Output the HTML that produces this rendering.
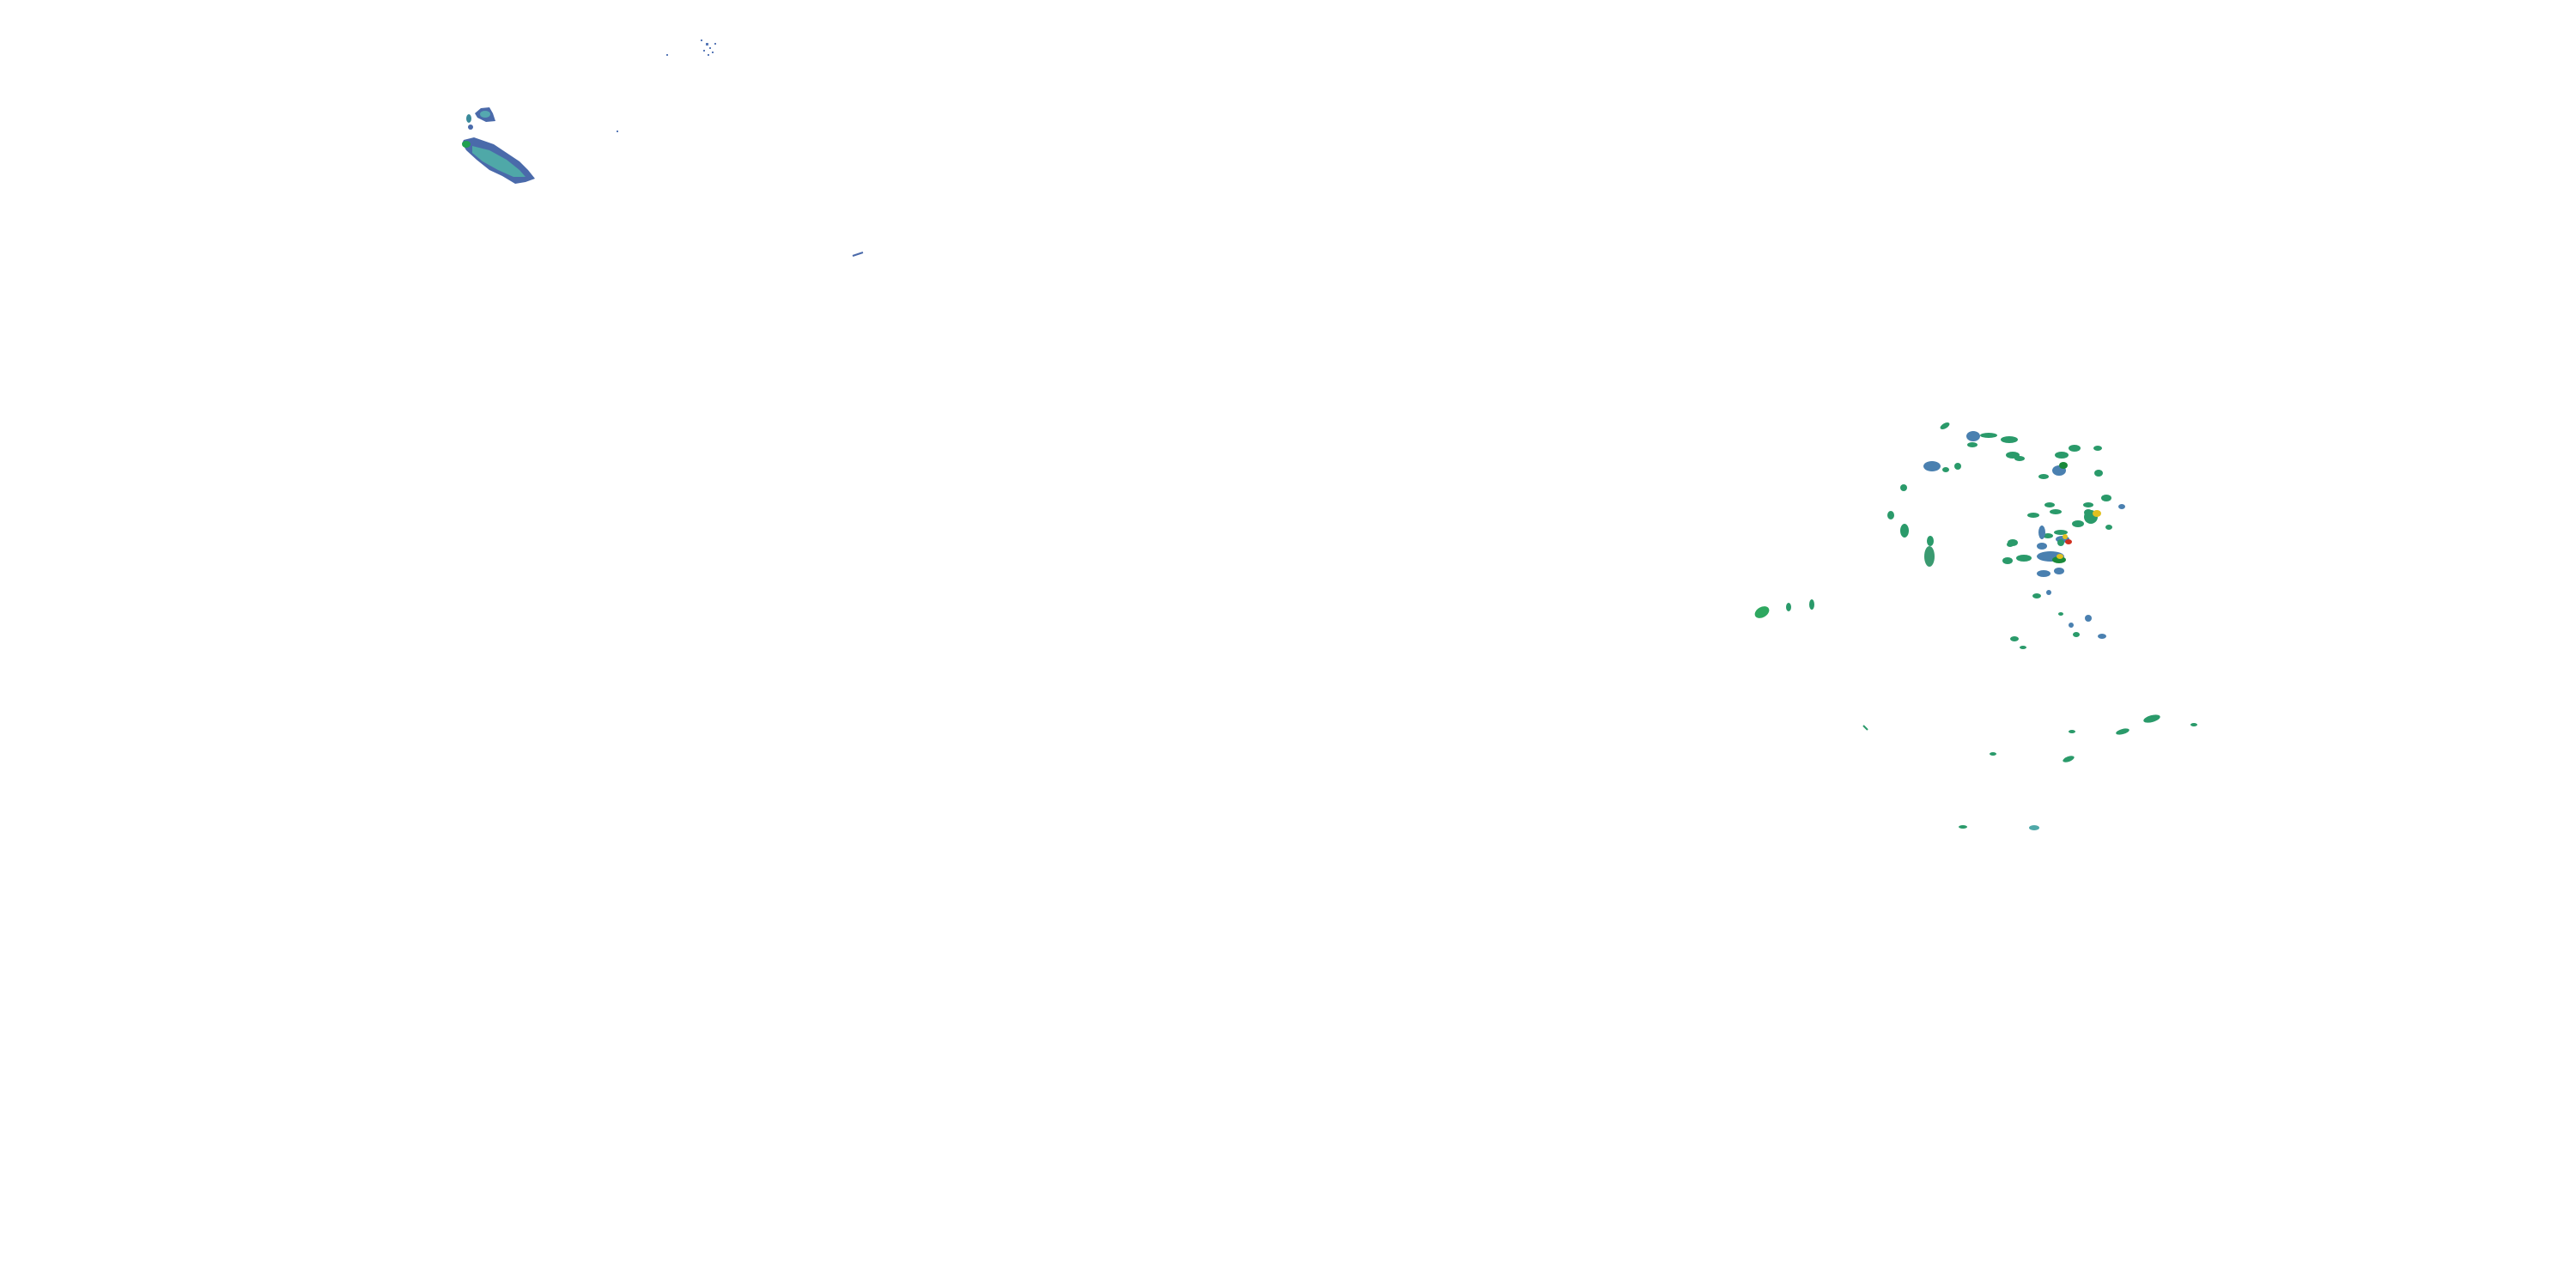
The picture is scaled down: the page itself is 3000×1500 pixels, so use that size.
<!DOCTYPE html>
<html><head><meta charset="utf-8"><style>html,body{margin:0;padding:0;background:#fff}svg{display:block}</style></head>
<body>
<svg width="3000" height="1500" viewBox="0 0 3000 1500" xmlns="http://www.w3.org/2000/svg">
<rect width="3000" height="1500" fill="#fff"/>
<polygon points="540,163 552,160 575,168 590,178 605,188 615,198 623,208 612,212 600,214 585,205 570,198 555,186 543,175 538,167" fill="#4a6aaa"/>
<polygon points="550,170 570,175 590,186 605,198 612,206 598,206 580,198 562,188 550,178" fill="#4fa8a8"/>
<ellipse cx="543" cy="168" rx="5" ry="4" fill="#1fa050"/>
<polygon points="553,132 560,126 570,125 574,132 577,141 566,142 556,137" fill="#4a6aaa"/>
<ellipse cx="565" cy="133" rx="6" ry="4" fill="#55a8b0"/>
<ellipse cx="546" cy="138" rx="3" ry="5" fill="#3a8a9a"/>
<ellipse cx="548" cy="148" rx="3" ry="3" fill="#4a6aaa"/>
<g fill="#5a7ab8">
<rect x="816" y="46" width="2" height="2"/><rect x="822" y="50" width="3" height="3"/><rect x="826" y="55" width="2" height="2"/>
<rect x="819" y="58" width="2" height="2"/><rect x="829" y="60" width="2" height="2"/><rect x="824" y="63" width="2" height="2"/>
<rect x="776" y="63" width="2" height="2"/><rect x="832" y="50" width="2" height="2"/><rect x="718" y="152" width="2" height="2"/>
</g>
<line x1="993" y1="298" x2="1005" y2="294" stroke="#4a6aaa" stroke-width="2"/>
<g fill="#2a9a6a">
<ellipse cx="2052" cy="713" rx="9" ry="6" transform="rotate(-30 2052 713)" fill="#2ea860"/>
<ellipse cx="2083" cy="707" rx="3" ry="5"/>
<ellipse cx="2110" cy="704" rx="3" ry="6"/>
<ellipse cx="2265" cy="496" rx="6" ry="3" transform="rotate(-30 2265 496)"/>
<ellipse cx="2298" cy="508" rx="8" ry="6" fill="#4a80b0"/>
<ellipse cx="2316" cy="507" rx="10" ry="3"/>
<ellipse cx="2340" cy="512" rx="10" ry="4"/>
<ellipse cx="2297" cy="518" rx="6" ry="3"/>
<ellipse cx="2250" cy="543" rx="10" ry="6" fill="#4a80b0"/>
<ellipse cx="2266" cy="547" rx="4" ry="3"/>
<ellipse cx="2280" cy="543" rx="4" ry="4"/>
<ellipse cx="2217" cy="568" rx="4" ry="4"/>
<ellipse cx="2202" cy="600" rx="4" ry="5"/>
<ellipse cx="2218" cy="618" rx="5" ry="8"/>
<ellipse cx="2248" cy="630" rx="4" ry="6"/>
<ellipse cx="2247" cy="648" rx="6" ry="12" fill="#3a9a70"/>
<ellipse cx="2344" cy="530" rx="8" ry="4"/>
<ellipse cx="2352" cy="534" rx="6" ry="3"/>
<ellipse cx="2401" cy="530" rx="8" ry="4"/>
<ellipse cx="2398" cy="548" rx="8" ry="6" fill="#4a80b0"/>
<ellipse cx="2403" cy="542" rx="5" ry="4" fill="#1a8a3a"/>
<ellipse cx="2416" cy="522" rx="7" ry="4"/>
<ellipse cx="2443" cy="522" rx="5" ry="3"/>
<ellipse cx="2444" cy="551" rx="5" ry="4"/>
<ellipse cx="2380" cy="555" rx="6" ry="3"/>
<ellipse cx="2387" cy="588" rx="6" ry="3"/>
<ellipse cx="2432" cy="588" rx="6" ry="3"/>
<ellipse cx="2400" cy="620" rx="8" ry="3"/>
<ellipse cx="2385" cy="624" rx="6" ry="3"/>
<ellipse cx="2420" cy="610" rx="7" ry="4"/>
<ellipse cx="2435" cy="602" rx="8" ry="8"/>
<ellipse cx="2442" cy="598" rx="5" ry="4" fill="#e0c020"/>
<ellipse cx="2402" cy="628" rx="8" ry="4" fill="#4a80b0"/>
<ellipse cx="2409" cy="631" rx="4" ry="3" fill="#d03020"/>
<ellipse cx="2380" cy="668" rx="8" ry="4" fill="#4a80b0"/>
<ellipse cx="2405" cy="625" rx="3" ry="3" fill="#e0c020"/>
<ellipse cx="2378" cy="620" rx="4" ry="8" fill="#4a80b0"/>
<ellipse cx="2378" cy="636" rx="6" ry="4" fill="#4a80b0"/>
<ellipse cx="2388" cy="648" rx="16" ry="6" fill="#4a80b0"/>
<ellipse cx="2398" cy="652" rx="8" ry="4" fill="#1a8a3a"/>
<ellipse cx="2399" cy="648" rx="4" ry="3" fill="#e0c020"/>
<ellipse cx="2357" cy="650" rx="9" ry="4"/>
<ellipse cx="2400" cy="632" rx="4" ry="4"/>
<ellipse cx="2341" cy="634" rx="4" ry="3"/>
<ellipse cx="2338" cy="653" rx="6" ry="4"/>
<ellipse cx="2398" cy="665" rx="6" ry="4" fill="#4a80b0"/>
<ellipse cx="2453" cy="580" rx="6" ry="4"/>
<ellipse cx="2432" cy="597" rx="5" ry="4"/>
<ellipse cx="2400" cy="715" rx="3" ry="2"/>
<ellipse cx="2412" cy="728" rx="3" ry="3" fill="#4a80b0"/>
<ellipse cx="2386" cy="690" rx="3" ry="3" fill="#4a80b0"/>
<ellipse cx="2394" cy="596" rx="7" ry="3"/>
<ellipse cx="2368" cy="600" rx="7" ry="3"/>
<ellipse cx="2471" cy="590" rx="4" ry="3" fill="#4a80b0"/>
<ellipse cx="2456" cy="614" rx="4" ry="3"/>
<ellipse cx="2344" cy="632" rx="6" ry="4"/>
<ellipse cx="2372" cy="694" rx="5" ry="3"/>
<ellipse cx="2356" cy="754" rx="4" ry="2"/>
<ellipse cx="2432" cy="720" rx="4" ry="4" fill="#4a80b0"/>
<ellipse cx="2418" cy="739" rx="4" ry="3"/>
<ellipse cx="2346" cy="744" rx="5" ry="3"/>
<ellipse cx="2448" cy="741" rx="5" ry="3" fill="#4a80b0"/>
<ellipse cx="2413" cy="852" rx="4" ry="2"/>
<ellipse cx="2472" cy="852" rx="8" ry="3" transform="rotate(-15 2472 852)"/>
<ellipse cx="2409" cy="884" rx="7" ry="3" transform="rotate(-20 2409 884)"/>
<ellipse cx="2506" cy="837" rx="10" ry="4" transform="rotate(-15 2506 837)"/>
<ellipse cx="2555" cy="844" rx="4" ry="2"/>
<ellipse cx="2321" cy="878" rx="4" ry="2"/>
<ellipse cx="2286" cy="963" rx="5" ry="2"/>
<ellipse cx="2369" cy="964" rx="6" ry="3" fill="#4fa8a8"/>
<line x1="2170" y1="845" x2="2175" y2="850" stroke="#2a9a6a" stroke-width="2"/>
</g>
</svg>
</body></html>
